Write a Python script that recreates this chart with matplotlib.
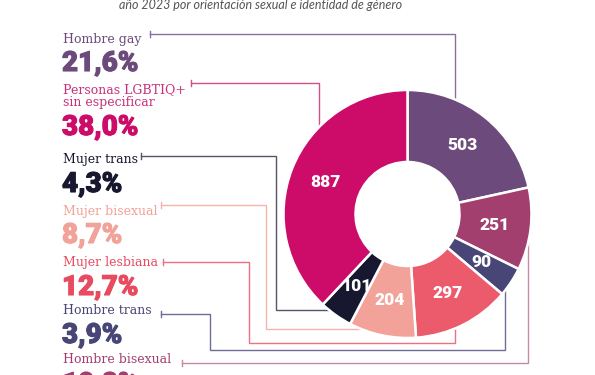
import numpy as np
import matplotlib
matplotlib.use("Agg")
import matplotlib.pyplot as plt
import matplotlib.patheffects as pe

# data, clockwise from 12 o'clock
categories = ["Hombre gay", "Hombre bisexual", "Hombre trans", "Mujer lesbiana",
              "Mujer bisexual", "Mujer trans", "Personas LGBTIQ+\nsin especificar"]
values = [503, 251, 90, 297, 204, 101, 887]
slice_colors = ["#6c4a7b", "#a33f6f", "#484676", "#ec5b6c", "#f2a298", "#17172f", "#cc0c68"]
label_colors = ["#6c4a7b", "#a33f6f", "#484676", "#e84a60", "#f2a298", "#17172f", "#c8307a"]
pct_colors = ["#6c4a7b", "#a33f6f", "#484676", "#e84a60", "#f2a298", "#17172f", "#cc0c68"]
line_colors = ["#8a6f9a", "#c58aa8", "#6d6d95", "#ee6f80", "#f5b3ab", "#55556a", "#d44f87"]
subtitle = "año 2023 por orientación sexual e identidad de género"

W, H = 595, 375
cx, cy = 407.5, 214      # donut centre (px from top)
R, r_in = 124, 52

# left-side text layout: label baseline, percent baseline (px from top)
text_pos = {
    "Hombre gay": (43, 71),
    "Personas LGBTIQ+\nsin especificar": (106, 135),
    "Mujer trans": (163, 192),
    "Mujer bisexual": (215, 243),
    "Mujer lesbiana": (266, 295),
    "Hombre trans": (314, 343),
    "Hombre bisexual": (363, 392),
}
# connector routes: corner points, then final approach to the ring
routes = {
    "Hombre gay": ([(150, 34), (455, 34)], "down"),
    "Personas LGBTIQ+\nsin especificar": ([(191, 83), (319, 83)], "down"),
    "Mujer trans": ([(141, 156), (276, 156), (276, 310)], "right"),
    "Mujer bisexual": ([(161, 205), (266, 205), (266, 329)], "right"),
    "Mujer lesbiana": ([(163, 262), (249, 262), (249, 343), (455, 343)], "up"),
    "Hombre trans": ([(161, 314), (210, 314), (210, 350), (505, 350)], "up"),
    "Hombre bisexual": ([(182, 363), (528, 363)], "up"),
}


def Y(y):
    return H - y


fig = plt.figure(figsize=(W / 100, H / 100), dpi=100)
ax = fig.add_axes([0, 0, 1, 1])

wedges, _ = ax.pie(values, colors=slice_colors, startangle=90, counterclock=False,
                   radius=R, center=(cx, Y(cy)),
                   wedgeprops=dict(width=R - r_in, edgecolor="white", linewidth=1.8))
ax.set_xlim(0, W)
ax.set_ylim(0, H)
ax.set_aspect("equal")
ax.axis("off")

rm = (R + r_in) / 2
for w, v in zip(wedges, values):
    a = np.deg2rad((w.theta1 + w.theta2) / 2)
    ax.text(cx + rm * np.cos(a), Y(cy) + rm * np.sin(a), str(v), color="white",
            fontsize=12.5, family="Roboto", weight="black", ha="center", va="center")

total = sum(values)
for cat, v, lc, pc, lnc in zip(categories, values, label_colors, pct_colors, line_colors):
    lab_y, pct_y = text_pos[cat]
    ax.text(63, Y(lab_y), cat, color=lc, fontsize=9, family="DejaVu Serif",
            ha="left", va="baseline", linespacing=1.0)
    pct = f"{v / total * 100:.1f}".replace(".", ",") + "%"
    ax.text(62, Y(pct_y), pct, color=pc, fontsize=20, family="Roboto", weight="black",
            ha="left", va="baseline",
            path_effects=[pe.withStroke(linewidth=0.8, foreground=pc)])

    pts, approach = routes[cat]
    lx, ly = pts[-1]
    if approach == "down":
        end = (lx, cy - np.sqrt(R ** 2 - (lx - cx) ** 2))
    elif approach == "up":
        end = (lx, cy + np.sqrt(R ** 2 - (lx - cx) ** 2))
    else:
        end = (cx - np.sqrt(R ** 2 - (ly - cy) ** 2), ly)
    path = pts + [end]
    xs = [p[0] for p in path]
    ys = [Y(p[1]) for p in path]
    ax.plot(xs, ys, color=lnc, lw=1.0, zorder=0, solid_joinstyle="miter")
    x0, y0 = pts[0]
    ax.plot([x0, x0], [Y(y0) - 3, Y(y0) + 3], color=lnc, lw=1.0, zorder=0)

ax.text(261, Y(9), subtitle, color="#555555", fontsize=9, family="Lato",
        style="italic", ha="center", va="baseline")

fig.savefig("out.png", dpi=100)
